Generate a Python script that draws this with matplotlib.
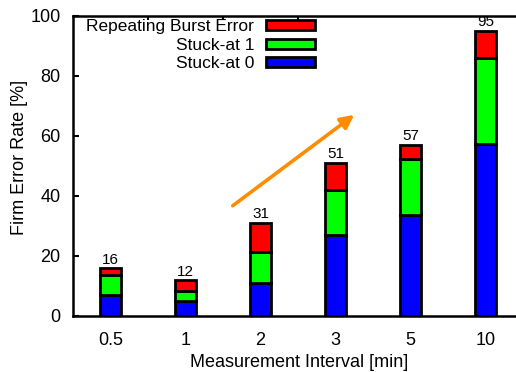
import numpy as np
import matplotlib
matplotlib.use("Agg")
import matplotlib.pyplot as plt

plt.rcParams['font.family'] = ['Liberation Sans', 'DejaVu Sans']

intervals = ["0.5", "1", "2", "3", "5", "10"]
stuck0 = [7, 5, 11, 27, 33.7, 57.5]
stuck1 = [6.7, 3.5, 10.5, 15, 18.8, 28.4]
burst = [2.3, 3.5, 9.5, 9, 4.5, 9.1]
totals = [16, 12, 31, 51, 57, 95]

fig = plt.figure(figsize=(5.16, 3.72), dpi=100)
ax = fig.add_axes([73/516, 56/372, 450/516, 300/372])

x = np.arange(len(intervals))
w = 0.28
edge = dict(edgecolor="black", linewidth=2)
b0 = ax.bar(x, stuck0, w, color="#0000ff", label="Stuck-at 0", **edge)
b1 = ax.bar(x, stuck1, w, bottom=stuck0, color="#00ff00", label="Stuck-at 1", **edge)
bottom2 = np.array(stuck0) + np.array(stuck1)
b2 = ax.bar(x, burst, w, bottom=bottom2, color="#ff0000", label="Repeating Burst Error", **edge)

tops = bottom2 + np.array(burst)
for xi, top, t in zip(x, tops, totals):
    ax.text(xi, top + 0.5, str(t), ha="center", va="bottom", fontsize=11)

# trend arrow
ax.annotate("", xy=(3.28, 67.6), xytext=(1.6, 36.2),
            arrowprops=dict(arrowstyle="-|>", color="#ff8c00", lw=2.6,
                            mutation_scale=20))

ax.set_xlim(-0.5, 5.5)
ax.set_ylim(0, 100)
ax.set_xticks(x)
ax.set_xticklabels(intervals, fontsize=13)
ax.set_yticks(range(0, 101, 20))
ax.tick_params(axis="y", labelsize=13, direction="in", length=4, width=1.5, pad=9)
ax.tick_params(axis="x", bottom=False, pad=8)
ax.set_xticks(np.arange(0, 2.6, 0.5), minor=True)
ax.tick_params(axis="x", which="minor", top=True, bottom=False, direction="in", length=3, width=1.5)
for s in ax.spines.values():
    s.set_linewidth(1.8)

ax.set_xlabel("Measurement Interval [min]", fontsize=13)
ax.set_ylabel("Firm Error Rate [%]", fontsize=13)
ax.xaxis.set_label_coords(0.502, -0.128)
ax.yaxis.set_label_coords(-0.1, 0.53)

ax.legend(handles=[b2, b1, b0], loc="upper right", bbox_to_anchor=(0.545, 1.0),
          markerfirst=False, frameon=False, fontsize=12.5, borderpad=0.2,
          borderaxespad=0, labelspacing=0.2, handlelength=2.8,
          handleheight=0.5, handletextpad=0.7)

fig.savefig("out.png", dpi=100)
